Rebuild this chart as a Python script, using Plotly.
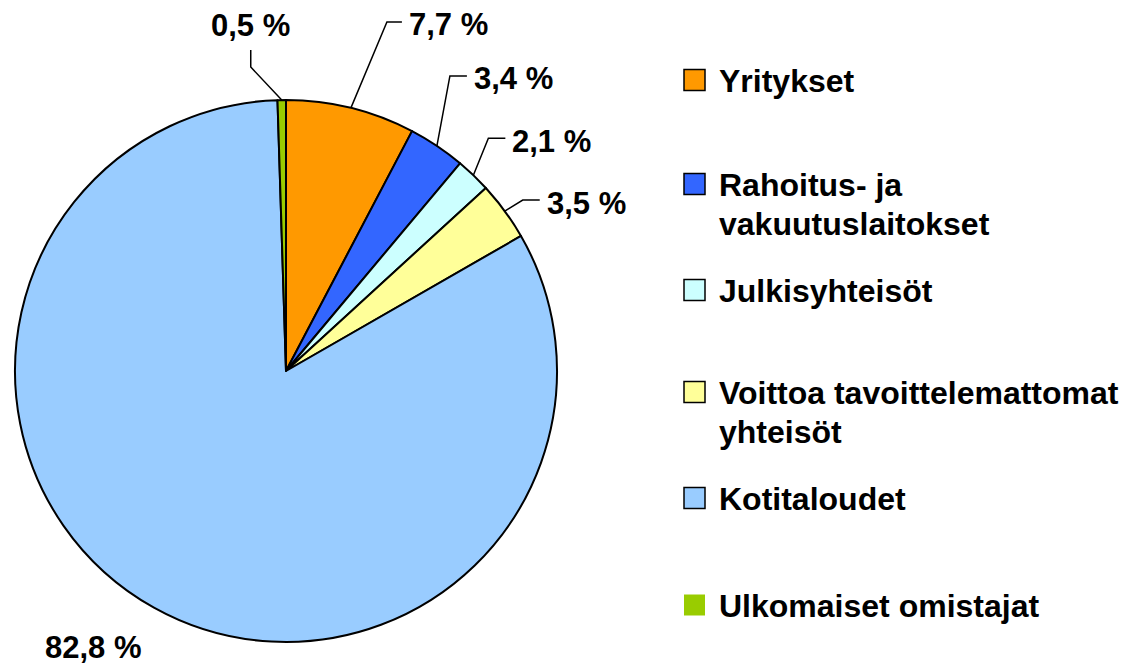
import math
import plotly.graph_objects as go

# ---- data ----
categories = ["Yritykset", "Rahoitus- ja vakuutuslaitokset", "Julkisyhteisöt",
              "Voittoa tavoittelemattomat yhteisöt", "Kotitaloudet", "Ulkomaiset omistajat"]
values = [7.7, 3.4, 2.1, 3.5, 82.8, 0.5]
legend_lines = [["Yritykset"], ["Rahoitus- ja", "vakuutuslaitokset"], ["Julkisyhteisöt"],
                ["Voittoa tavoittelemattomat", "yhteisöt"], ["Kotitaloudet"], ["Ulkomaiset omistajat"]]

# ---- style ----
colors = ["#FF9900", "#3366FF", "#CCFFFF", "#FFFF99", "#99CCFF", "#99CC00"]
W, H = 1142, 665
PAGE_OFF = 8                       # default body margin of the html page
CX, CY, R = 286, 371, 271          # pie centre / radius in pixels (from top-left of window)
FONT = "Liberation Sans, Arial, sans-serif"
LABEL_SIZE = 31
LEG_SIZE = 32
# leader-line geometry relative to slice edge point: (elbow dx, dy), (end dx, dy), label anchor
leader = [
    ((36, -86), (51, -86), "left"),
    ((13, -70), (30, -70), "left"),
    ((15, -37), (32, -37), "left"),
    ((18, -11), (35, -11), "left"),
    (None, (-60, 40), "center"),
    ((-31, -33), (-31, -50), "top"),
]
leg_y = [80, 184, 290, 392, 498, 605]
leg_line_gap = 39
leg_sq_x0, leg_sq_x1, leg_sq_h = 684, 705, 21
leg_text_x = 717


def px(x):
    return (x - PAGE_OFF) / W


def py(y):
    return 1 - (y - PAGE_OFF) / H


fig = go.Figure(go.Pie(
    labels=categories, values=values, sort=False, direction="clockwise", rotation=0,
    marker=dict(colors=colors, line=dict(color="black", width=2)),
    textinfo="none", hoverinfo="label+percent", showlegend=False,
    domain=dict(x=[px(CX - R), px(CX + R)], y=[py(CY + R), py(CY - R)]),
))

shapes = []
annotations = []
total = sum(values)
cum = 0.0
for i, v in enumerate(values):
    mid = (cum + v / 2) / total * 2 * math.pi
    cum += v
    ex = CX + R * math.sin(mid)
    ey = CY - R * math.cos(mid)
    elbow, end, anchor = leader[i]
    txt = f"{v:.1f}".replace(".", ",") + " %"
    if elbow is not None:
        pts = [(ex, ey), (ex + elbow[0], ey + elbow[1]), (ex + end[0], ey + end[1])]
        path = "M " + " L ".join(f"{px(a):.5f},{py(b):.5f}" for a, b in pts)
        shapes.append(dict(type="path", xref="paper", yref="paper", path=path,
                           line=dict(color="black", width=1.5)))
    lx, ly = ex + end[0], ey + end[1]
    font = dict(family=FONT, size=LABEL_SIZE, color="black")
    if anchor == "left":
        annotations.append(dict(x=px(lx + 5), y=py(ly + 3), xanchor="left", yanchor="middle",
                                text=f"<b>{txt}</b>", showarrow=False, font=font))
    elif anchor == "top":
        annotations.append(dict(x=px(lx), y=py(ly - 25), xanchor="center", yanchor="middle",
                                text=f"<b>{txt}</b>", showarrow=False, font=font))
    else:
        annotations.append(dict(x=px(lx), y=py(ly), xanchor="center", yanchor="middle",
                                text=f"<b>{txt}</b>", showarrow=False, font=font))

# legend drawn manually
for i, lines in enumerate(legend_lines):
    yc = leg_y[i]
    border = dict(color="black", width=1.5) if i < len(legend_lines) - 1 else dict(width=0)
    shapes.append(dict(type="rect", xref="paper", yref="paper",
                       x0=px(leg_sq_x0), x1=px(leg_sq_x1),
                       y0=py(yc + leg_sq_h / 2), y1=py(yc - leg_sq_h / 2),
                       fillcolor=colors[i], line=border))
    for j, t in enumerate(lines):
        annotations.append(dict(x=px(leg_text_x), y=py(yc + j * leg_line_gap + 1),
                                xanchor="left", yanchor="middle",
                                text=f"<b>{t}</b>", showarrow=False,
                                font=dict(family=FONT, size=LEG_SIZE, color="black")))

fig.update_layout(width=W, height=H, margin=dict(l=0, r=0, t=0, b=0),
                  paper_bgcolor="white", plot_bgcolor="white",
                  shapes=shapes, annotations=annotations)
fig.write_html("out.html")
